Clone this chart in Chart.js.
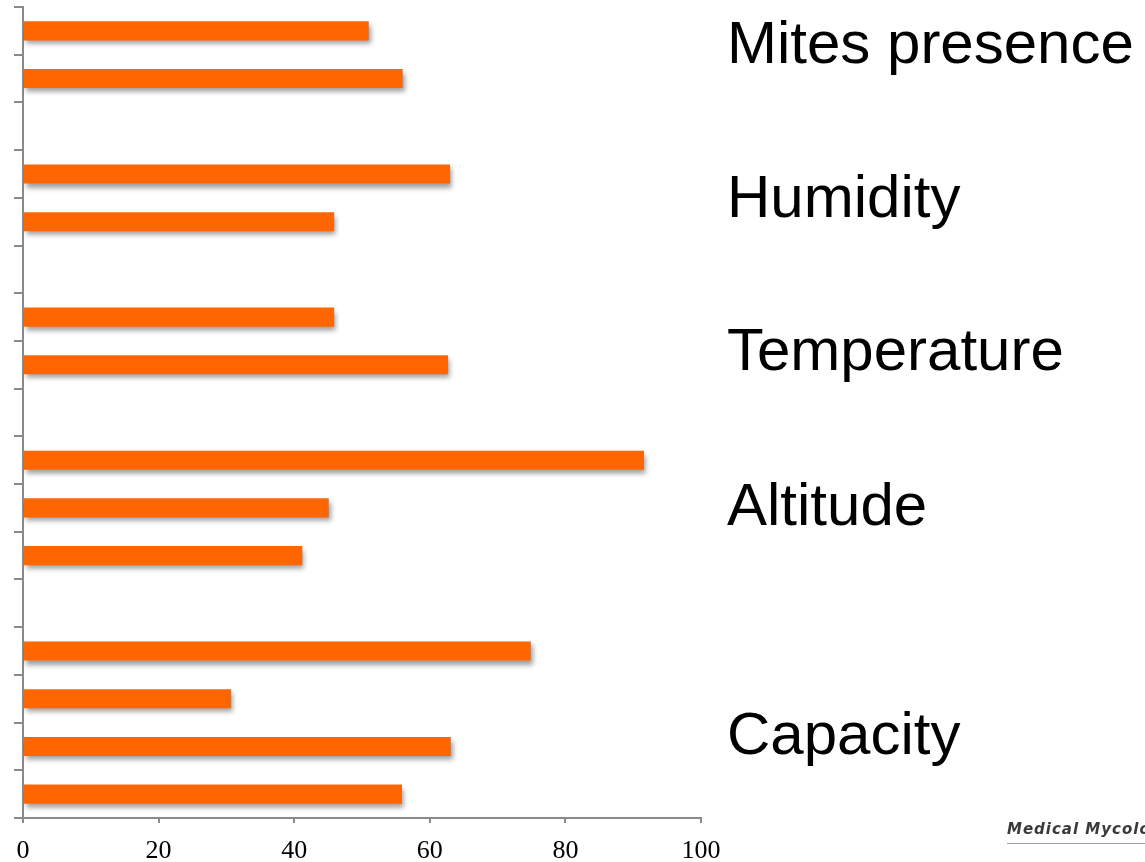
<!DOCTYPE html>
<html>
<head>
<meta charset="utf-8">
<style>
  html, body { margin: 0; padding: 0; background: #ffffff; }
  #wrap { width: 1145px; height: 862px; position: relative; }
</style>
<script src="https://cdn.jsdelivr.net/npm/chart.js@4/dist/chart.umd.min.js"></script>
</head>
<body>
<div id="wrap"><canvas id="chart" width="1145" height="862"></canvas></div>
<script>
// One row per bar, top to bottom; empty rows separate the factor groups.
const categories = [
  'Mites presence 1', 'Mites presence 2', '',
  'Humidity 1', 'Humidity 2', '',
  'Temperature 1', 'Temperature 2', '',
  'Altitude 1', 'Altitude 2', 'Altitude 3', '',
  'Capacity 1', 'Capacity 2', 'Capacity 3', 'Capacity 4'
];
const values = [
  51.0, 56.0, null,
  63.0, 45.9, null,
  45.9, 62.7, null,
  91.6, 45.1, 41.2, null,
  74.9, 30.7, 63.1, 55.9
];
const xTicks = [0, 20, 40, 60, 80, 100];

// Factor names written to the right of the bars
const groupNames = ['Mites presence', 'Humidity', 'Temperature', 'Altitude', 'Capacity'];
// baseline of each name, in row units on the category axis
const groupBaselineRow = [0.68, 3.90, 7.10, 10.36, 15.15];

const AXIS_GREY = '#8a8a8a';

const barShadow = {
  id: 'barShadow',
  beforeDatasetsDraw(chart) {
    const ctx = chart.ctx;
    ctx.save();
    ctx.shadowColor = 'rgba(0,0,0,0.38)';
    ctx.shadowOffsetX = 2;
    ctx.shadowOffsetY = 4;
    ctx.shadowBlur = 5;
  },
  afterDatasetsDraw(chart) {
    chart.ctx.restore();
  }
};

const groupLabels = {
  id: 'groupLabels',
  afterDraw(chart) {
    const ctx = chart.ctx;
    const y = chart.scales.y;
    ctx.save();
    ctx.fillStyle = '#000000';
    ctx.font = '60px "Liberation Sans", Arial, sans-serif';
    ctx.textAlign = 'left';
    ctx.textBaseline = 'alphabetic';
    groupNames.forEach((name, i) => {
      ctx.fillText(name, 727, y.getPixelForValue(groupBaselineRow[i]));
    });

    // source line in the lower right corner
    ctx.fillStyle = '#3a3a3a';
    ctx.font = 'italic bold 15px "DejaVu Sans", sans-serif';
    if ('letterSpacing' in ctx) ctx.letterSpacing = '1px';
    ctx.fillText('Medical Mycology', 1007, 834);
    ctx.strokeStyle = '#a0a0a0';
    ctx.lineWidth = 1;
    ctx.beginPath();
    ctx.moveTo(1007, 843.5);
    ctx.lineTo(1145, 843.5);
    ctx.stroke();
    ctx.restore();
  }
};

new Chart(document.getElementById('chart'), {
  type: 'bar',
  data: {
    labels: categories,
    datasets: [{
      data: values,
      backgroundColor: '#ff6600',
      borderWidth: 0,
      categoryPercentage: 1,
      barPercentage: 0.4
    }]
  },
  options: {
    indexAxis: 'y',
    responsive: false,
    animation: false,
    devicePixelRatio: 1,
    layout: { padding: { top: 7, right: 444, bottom: 0, left: 0 } },
    plugins: {
      legend: { display: false },
      tooltip: { enabled: false }
    },
    scales: {
      x: {
        min: 0,
        max: 100,
        afterBuildTicks(scale) { scale.ticks = xTicks.map(v => ({ value: v })); },
        afterFit(scale) { scale.height = 44; },
        grid: {
          drawOnChartArea: false,
          drawTicks: true,
          tickLength: 5,
          color: AXIS_GREY,
          lineWidth: 2
        },
        border: { color: AXIS_GREY, width: 2 },
        ticks: {
          color: '#000000',
          padding: 13,
          maxRotation: 0,
          font: { family: '"Liberation Serif", "Times New Roman", serif', size: 26 }
        }
      },
      y: {
        afterFit(scale) { scale.width = 23; },
        grid: {
          offset: true,
          drawOnChartArea: false,
          drawTicks: true,
          tickLength: 9,
          color: AXIS_GREY,
          lineWidth: 2
        },
        border: { color: AXIS_GREY, width: 2 },
        ticks: { display: false }
      }
    }
  },
  plugins: [barShadow, groupLabels]
});
</script>
</body>
</html>
